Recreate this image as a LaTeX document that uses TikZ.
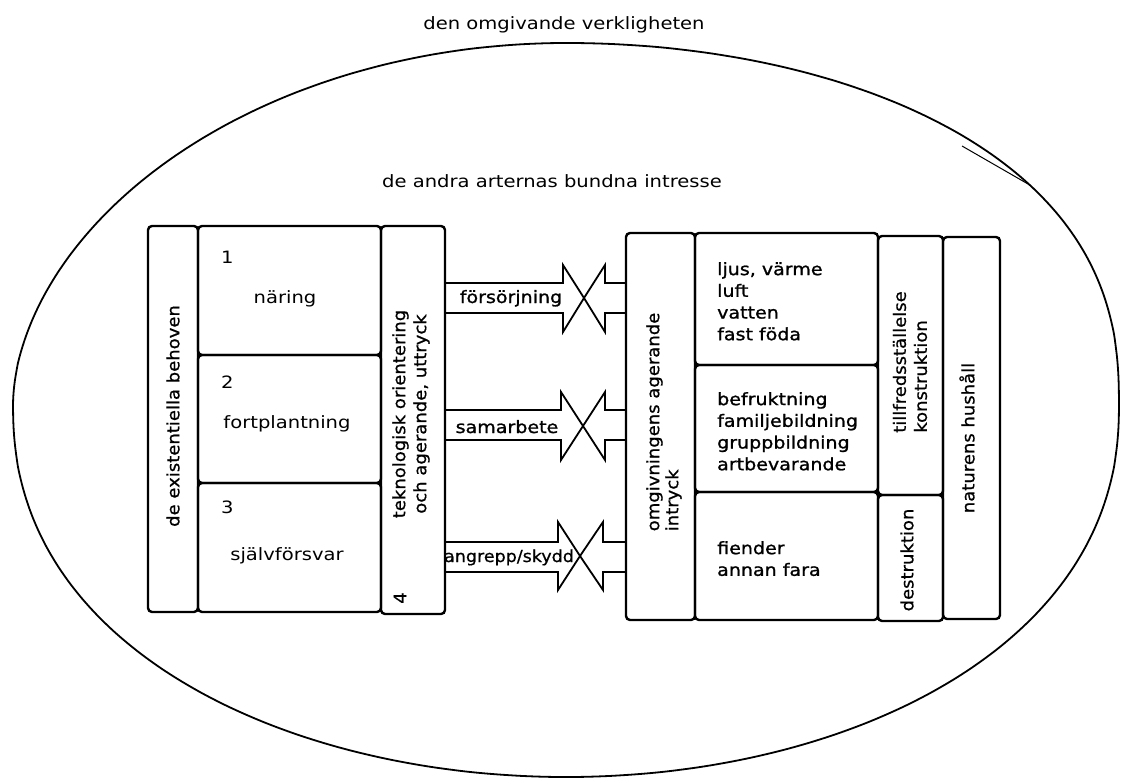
\documentclass[tikz,border=0pt]{standalone}
\usepackage{fontspec}
\setmainfont{DejaVu Sans}
\newfontfamily\wfont[FakeStretch=1.15]{DejaVu Sans}
\newfontfamily\bwfont[FakeStretch=1.12,FakeBold=1.2]{DejaVu Sans}
\newfontfamily\vfont[FakeStretch=1.06,FakeBold=0.8]{DejaVu Sans}
\usetikzlibrary{fit}
\begin{document}
\begin{tikzpicture}[x=1pt,y=-1pt,
  box/.style={draw,line width=2.4pt,rounded corners=4pt,inner sep=0pt},
  txt/.style={inner sep=0pt,font=\wfont\fontsize{17}{21.7}\selectfont},
  btxt/.style={inner sep=0pt,font=\bwfont\fontsize{17}{21.7}\selectfont},
  vtxt/.style={inner sep=0pt,rotate=90,font=\vfont\fontsize{17}{21}\selectfont},
  arr/.style={draw,line width=1.8pt,line join=miter},
  ell/.style={draw,line width=1.8pt,line join=round}]
\useasboundingbox (0,0) rectangle (1122,778);

% outer ellipse (hand drawn, slightly boxy)
\draw[ell]
  plot[domain=0.01:90,samples=60,smooth,variable=\t]
    ({566+553*cos(\t)},{405-362*pow(abs(sin(\t)),0.82)})
  -- plot[domain=90:179.99,samples=60,smooth,variable=\t]
    ({566+553*cos(\t)},{405-362*pow(abs(sin(\t)),1.08)})
  -- plot[domain=180.01:270,samples=60,smooth,variable=\t]
    ({566+553*cos(\t)},{405+372*pow(abs(sin(\t)),0.9)})
  -- plot[domain=270:359.99,samples=60,smooth,variable=\t]
    ({566+553*cos(\t)},{405+372*pow(abs(sin(\t)),0.9)})
  -- cycle;
\draw[line width=1pt] (962,146) -- (1028,184);

% titles
\node[txt,anchor=base] (title1) at (564,30) {den omgivande verkligheten};
\node[txt,anchor=base] (title2) at (552,188) {de andra arternas bundna intresse};

% left block
\node[box,fit={(148,226) (198,612)}] (exist) {};
\node[box,fit={(198,226) (381,355)}] (b1) {};
\node[box,fit={(198,355) (381,483)}] (b2) {};
\node[box,fit={(198,483) (381,612)}] (b3) {};
\node[box,fit={(381,226) (445,614)}] (tek) {};

% right block
\node[box,fit={(626,233) (695,620)}] (omg) {};
\node[box,fit={(695,233) (878,365)}] (r1) {};
\node[box,fit={(695,365) (878,492)}] (r2) {};
\node[box,fit={(695,492) (878,620)}] (r3) {};
\node[box,fit={(878,236) (943,495)}] (till) {};
\node[box,fit={(878,495) (943,621)}] (dest) {};
\node[box,fit={(943,237) (1000,619)}] (nat) {};

% left texts
\node[vtxt] (texist) at (173,416) {de existentiella behoven};
\node[txt,anchor=base west] (n1) at (221,263) {1};
\node[txt,anchor=base] (tn) at (285,303) {näring};
\node[txt,anchor=base west] (n2) at (221,388) {2};
\node[txt,anchor=base] (tf) at (287,428) {fortplantning};
\node[txt,anchor=base west] (n3) at (221,513) {3};
\node[txt,anchor=base] (ts) at (287,560) {självförsvar};
\node[vtxt,align=center] (ttek) at (411,414) {teknologisk orientering\\och agerande, uttryck};
\node[vtxt] (t4) at (400,598) {4};

% right texts
\node[vtxt,align=left,font=\vfont\fontsize{17}{19}\selectfont] (tomg) at (664,422) {omgivningens agerande\\intryck};
\node[btxt,align=left,anchor=north west] (tr1) at (717,262) {ljus, värme\\luft\\vatten\\fast föda};
\node[btxt,align=left,anchor=north west] (tr2) at (717,392) {befruktning\\familjebildning\\gruppbildning\\artbevarande};
\node[btxt,align=left,anchor=north west] (tr3) at (717,541) {fiender\\annan fara};
\node[vtxt,align=left] (ttill) at (910,362) {tillfredsställelse\\konstruktion};
\node[vtxt] (tdest) at (907,560) {destruktion};
\node[vtxt] (tnat) at (967,438) {naturens hushåll};

% crossing arrows
\coordinate (x1) at (584,298);
\coordinate (s1t) at (0,283); \coordinate (s1b) at (0,313);
\draw[arr] (tek.east |- s1t) -- (563,283) -- (563,265) -- (x1) -- (563,332) -- (563,313) -- (tek.east |- s1b);
\draw[arr] (omg.west |- s1t) -- (605,283) -- (605,265) -- (x1) -- (605,332) -- (605,313) -- (omg.west |- s1b);

\coordinate (x2) at (583,426);
\coordinate (s2t) at (0,410); \coordinate (s2b) at (0,440);
\draw[arr] (tek.east |- s2t) -- (561,410) -- (561,392) -- (x2) -- (561,460) -- (561,440) -- (tek.east |- s2b);
\draw[arr] (omg.west |- s2t) -- (605,410) -- (605,392) -- (x2) -- (605,460) -- (605,440) -- (omg.west |- s2b);

\coordinate (x3) at (580,556);
\coordinate (s3t) at (0,542); \coordinate (s3b) at (0,572);
\draw[arr] (tek.east |- s3t) -- (558,542) -- (558,522) -- (x3) -- (558,590) -- (558,572) -- (tek.east |- s3b);
\draw[arr] (omg.west |- s3t) -- (603,542) -- (603,522) -- (x3) -- (603,590) -- (603,572) -- (omg.west |- s3b);

\node[btxt,anchor=base] (l1) at (511,303) {försörjning};
\node[btxt,anchor=base] (l2) at (507,433) {samarbete};
\node[inner sep=0pt,anchor=base,font=\vfont\fontsize{16.5}{20}\selectfont] (l3) at (509,562) {angrepp/skydd};
\end{tikzpicture}
\end{document}
